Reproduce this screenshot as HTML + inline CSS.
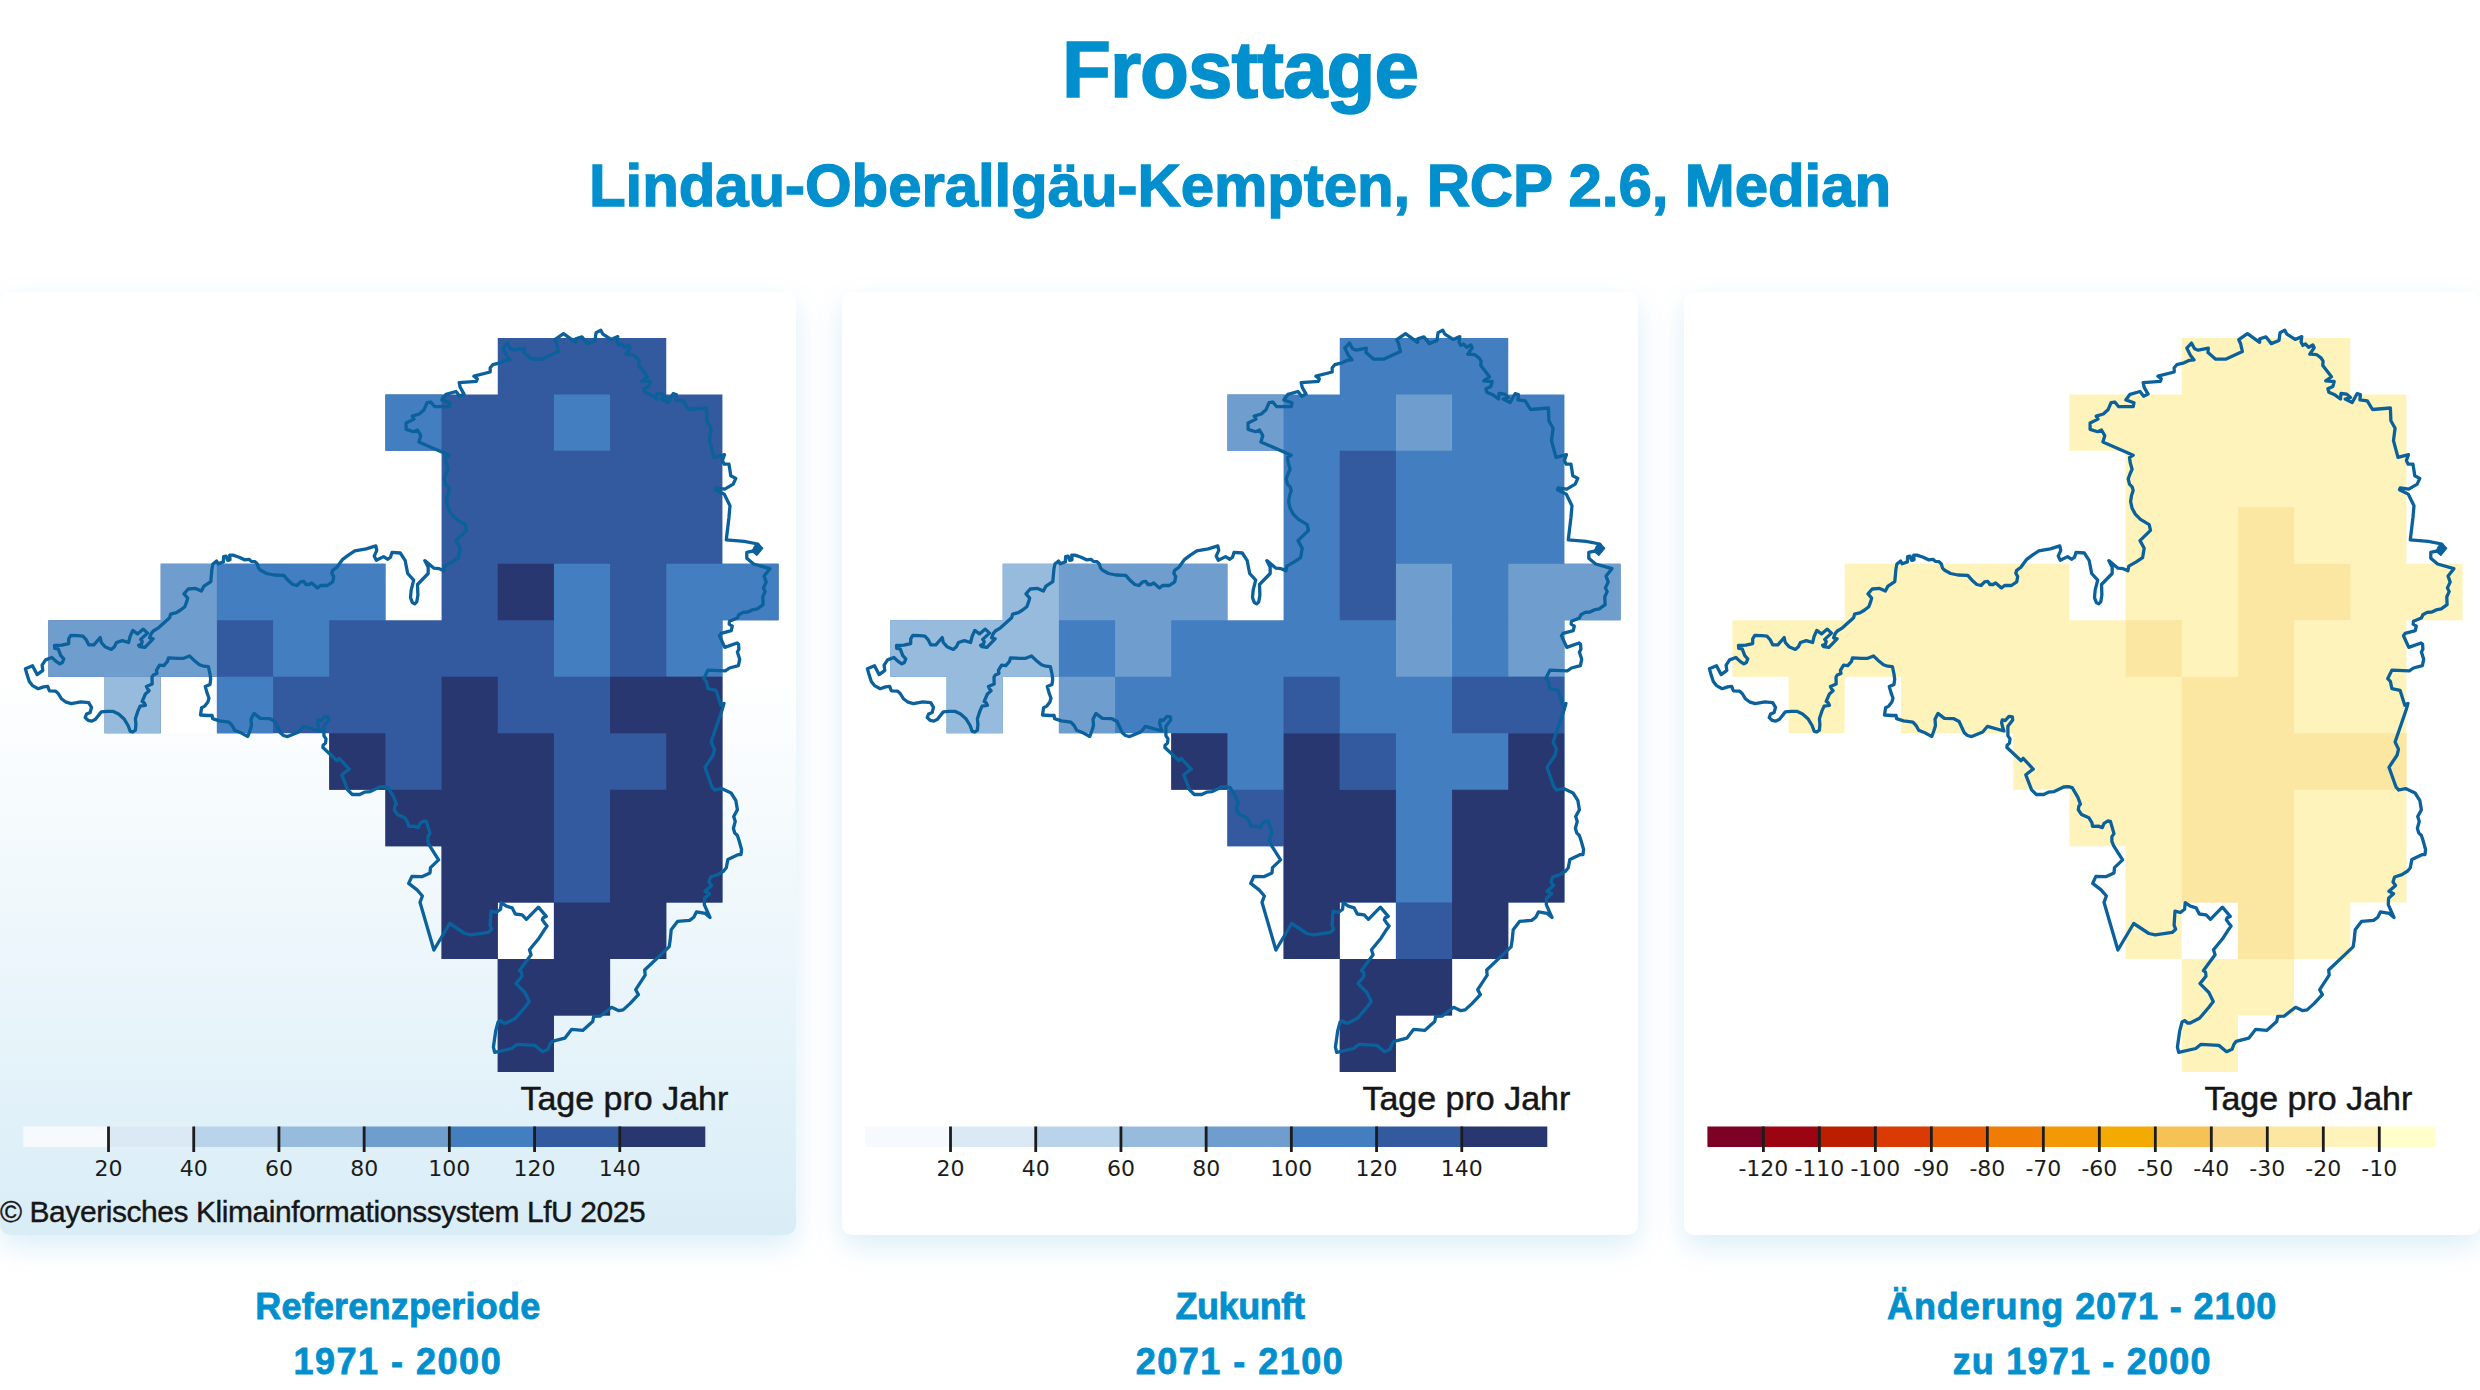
<!DOCTYPE html>
<html lang="de"><head><meta charset="utf-8"><title>Frosttage</title>
<style>
html,body{margin:0;padding:0;background:#fff;}
body{width:2480px;height:1390px;position:relative;overflow:hidden;font-family:"Liberation Sans",sans-serif;color:#028fcd;}
.t{position:absolute;left:0;width:2480px;text-align:center;font-weight:700;white-space:nowrap;margin:0;}
h1.t{top:24.3px;font-size:80px;line-height:92px;letter-spacing:-0.95px;-webkit-text-stroke:1.6px #028fcd;}
h2.t{top:150.6px;font-size:60px;line-height:70px;letter-spacing:-0.09px;-webkit-text-stroke:1.3px #028fcd;}
.card{position:absolute;top:292px;height:943px;width:795.67px;background:#fff;border-radius:10px;box-shadow:0 11px 30px -2px rgba(10,143,208,.17);}
.card.sel{background:linear-gradient(180deg,#fff 40%,#d9edf7 100%);}
svg.map{position:absolute;top:292px;overflow:visible;}
.tk{font-family:"DejaVu Sans","Liberation Sans",sans-serif;font-size:22px;fill:#1c1c1c;}
.unit{font-family:"Liberation Sans",sans-serif;font-size:34px;fill:#161616;stroke:#161616;stroke-width:0.5px;}
.copy{font-family:"Liberation Sans",sans-serif;font-size:30px;letter-spacing:-0.44px;fill:#161616;stroke:#161616;stroke-width:0.4px;}
.cap{position:absolute;width:795.67px;text-align:center;font-weight:700;font-size:36px;line-height:40px;height:40px;white-space:nowrap;-webkit-text-stroke:0.8px #028fcd;}
.l1{top:1287px;} .l2{top:1341.6px;}
</style></head><body>
<h1 class="t">Frosttage</h1>
<h2 class="t">Lindau-Oberallgäu-Kempten, RCP 2.6, Median</h2>
<div class="card sel" style="left:0px"></div>
<div class="card" style="left:842.17px"></div>
<div class="card" style="left:1684.34px"></div>
<svg class="map" style="left:0.00px" width="795.67" height="943" viewBox="0 292 795.67 943">
<path d="M385.42 563.78H441.59V620.25H385.42ZM160.74 676.72H216.91V733.19H160.74ZM497.76 902.60H553.93V959.07H497.76Z" fill="#ffffff"/>
<path d="M216.91 563.78L273.08 563.78L329.25 563.78L385.42 563.78L385.42 620.25L441.59 620.25L441.59 563.78L441.59 507.31L441.59 450.84L385.42 450.84L385.42 394.37L441.59 394.37L497.76 394.37L497.76 337.90L553.93 337.90L610.10 337.90L666.27 337.90L666.27 394.37L722.44 394.37L722.44 450.84L722.44 507.31L722.44 563.78L778.61 563.78L778.61 620.25L722.44 620.25L722.44 676.72L722.44 733.19L722.44 789.66L722.44 846.13L722.44 902.60L666.27 902.60L666.27 959.07L610.10 959.07L610.10 1015.54L553.93 1015.54L553.93 1072.01L497.76 1072.01L497.76 1015.54L497.76 959.07L553.93 959.07L553.93 902.60L497.76 902.60L497.76 959.07L441.59 959.07L441.59 902.60L441.59 846.13L385.42 846.13L385.42 789.66L329.25 789.66L329.25 733.19L273.08 733.19L216.91 733.19L216.91 676.72L160.74 676.72L160.74 733.19L104.57 733.19L104.57 676.72L48.40 676.72L48.40 620.25L104.57 620.25L160.74 620.25L160.74 563.78Z" fill="#33599e" fill-rule="evenodd"/>
<path d="M385.42 394.37H441.59V450.84H385.42ZM553.93 394.37H610.10V450.84H553.93ZM216.91 563.78H385.42V620.25H216.91ZM553.93 563.78H610.10V620.25H553.93ZM666.27 563.78H778.61V620.25H666.27ZM273.08 620.25H329.25V676.72H273.08ZM553.93 620.25H610.10V676.72H553.93ZM666.27 620.25H722.44V676.72H666.27ZM216.91 676.72H273.08V733.19H216.91Z" fill="#437ec0"/>
<path d="M160.74 563.78H216.91V620.25H160.74ZM48.40 620.25H216.91V676.72H48.40Z" fill="#6e9dce"/>
<path d="M497.76 563.78H553.93V620.25H497.76ZM441.59 676.72H497.76V733.19H441.59ZM610.10 676.72H722.44V733.19H610.10ZM329.25 733.19H385.42V789.66H329.25ZM441.59 733.19H553.93V789.66H441.59ZM666.27 733.19H722.44V789.66H666.27ZM385.42 789.66H553.93V846.13H385.42ZM610.10 789.66H722.44V846.13H610.10ZM441.59 846.13H553.93V902.60H441.59ZM610.10 846.13H722.44V902.60H610.10ZM441.59 902.60H497.76V959.07H441.59ZM553.93 902.60H666.27V959.07H553.93ZM497.76 959.07H610.10V1015.54H497.76ZM497.76 1015.54H553.93V1072.01H497.76Z" fill="#283770"/>
<path d="M104.57 676.72H160.74V733.19H104.57Z" fill="#97bbdd"/>
<path d="M25.4 668.8 L32.5 665.8 L37.2 674.6 L42.8 670.4 L42.1 665.1 L45.6 659.9 L51.9 657.5 L56.1 661.4 L59.8 663.9 L62.4 662.5 L63.8 658.8 L60.8 655.7 L58.2 648.8 L54.7 648.3 L54.5 645.5 L61.9 645.2 L68.7 643.6 L68.7 638.8 L70.8 635.4 L77.6 635.7 L82.9 636.2 L86.3 639.9 L88.7 644.8 L93.9 644.8 L100.2 637.5 L101.3 642.5 L105.0 646.7 L111.3 649.4 L114.4 646.7 L116.5 642.5 L122.3 640.6 L128.6 642.5 L130.2 636.2 L132.8 630.4 L137.5 633.9 L143.3 629.1 L147.5 633.1 L140.7 639.4 L142.2 641.5 L141.5 644.1 L138.6 645.2 L139.6 646.5 L144.9 647.3 L153.1 638.8 L149.6 637.8 L151.2 633.6 L153.3 631.0 L158.5 627.8 L163.8 623.1 L169.6 617.8 L170.6 614.2 L176.4 612.6 L180.6 610.0 L184.8 606.8 L186.7 601.6 L187.7 598.1 L184.0 593.9 L188.2 589.0 L195.6 588.4 L201.4 591.1 L204.0 586.1 L210.8 581.6 L211.9 569.3 L212.9 564.0 L216.6 561.1 L218.2 563.8 L223.4 561.9 L223.6 556.6 L226.1 556.1 L227.6 560.3 L230.0 559.8 L229.7 555.1 L232.9 555.1 L239.2 557.2 L244.4 559.8 L249.2 559.3 L251.3 561.4 L255.0 561.7 L257.3 564.0 L258.6 568.2 L260.7 570.3 L266.5 573.5 L273.9 575.0 L283.8 575.3 L288.6 580.8 L292.8 584.5 L297.0 585.5 L300.6 581.9 L303.8 581.3 L305.9 584.5 L309.1 584.5 L311.7 582.9 L317.5 588.0 L320.6 585.5 L327.4 585.5 L332.7 581.9 L333.7 576.6 L331.8 573.2 L332.7 570.3 L336.9 567.2 L342.7 559.3 L348.4 555.1 L354.8 550.9 L366.3 548.8 L375.8 545.9 L376.8 550.3 L374.2 556.1 L376.3 560.3 L383.6 556.6 L387.8 559.3 L390.5 557.2 L392.0 552.4 L400.3 553.0 L405.1 560.3 L407.7 573.5 L413.7 580.1 L411.2 589.8 L410.5 597.6 L412.4 602.6 L414.7 603.9 L416.8 601.8 L417.9 595.0 L417.5 584.5 L428.2 573.5 L428.2 567.2 L424.8 560.6 L434.0 568.2 L439.2 568.7 L443.9 570.8 L444.8 566.1 L452.3 561.9 L458.6 557.7 L460.2 548.3 L456.0 540.6 L466.5 530.4 L465.2 524.6 L456.5 519.4 L451.3 514.1 L448.1 508.3 L446.6 501.5 L447.6 495.2 L449.2 490.5 L448.1 486.8 L445.5 484.2 L444.2 478.9 L446.3 473.2 L448.1 469.2 L446.3 462.9 L445.5 457.6 L449.2 455.2 L418.9 441.9 L420.8 435.6 L417.5 430.0 L413.7 431.7 L406.1 429.3 L406.1 423.0 L414.0 419.1 L412.2 416.1 L419.3 414.0 L424.0 409.8 L427.1 402.7 L430.8 402.0 L434.7 406.7 L449.2 406.7 L450.0 402.7 L441.8 399.9 L446.0 394.3 L456.0 391.5 L459.7 396.2 L464.1 394.1 L460.2 387.3 L459.2 382.7 L476.5 381.3 L477.3 378.8 L473.9 376.2 L490.2 372.0 L490.2 367.8 L492.8 364.7 L500.1 362.8 L505.4 360.3 L510.1 359.9 L506.4 355.2 L502.8 348.1 L507.5 343.1 L510.6 348.7 L514.3 350.2 L524.3 348.1 L524.0 352.6 L531.7 359.2 L541.6 359.2 L558.4 351.5 L556.6 343.7 L554.8 339.7 L563.5 333.7 L575.6 342.3 L575.8 338.7 L581.9 336.8 L587.3 343.6 L595.0 340.5 L596.1 332.6 L600.8 330.3 L602.9 334.2 L611.1 339.4 L617.8 336.6 L617.1 341.9 L618.9 345.4 L621.6 344.0 L624.7 347.3 L628.9 345.0 L630.2 347.8 L625.8 354.1 L632.8 354.7 L637.0 357.8 L639.1 361.2 L638.8 365.4 L647.5 376.7 L641.8 380.9 L650.2 381.5 L648.9 386.4 L643.9 388.8 L644.9 392.3 L651.2 395.1 L656.5 399.0 L657.0 393.5 L662.8 394.1 L666.4 397.5 L661.2 399.0 L668.2 402.5 L673.1 393.7 L676.4 394.6 L675.9 399.8 L683.3 400.9 L688.5 409.5 L706.4 408.0 L706.9 420.8 L711.1 428.2 L709.5 440.6 L714.0 457.4 L724.5 454.7 L722.4 460.5 L724.2 464.2 L729.0 464.2 L730.8 475.7 L735.8 478.4 L733.2 484.1 L724.8 489.1 L716.3 487.8 L715.5 489.7 L724.2 494.1 L730.0 505.7 L729.0 517.2 L726.3 539.8 L744.2 541.4 L757.8 544.0 L753.6 550.8 L746.8 552.4 L746.8 558.2 L753.6 564.0 L769.9 568.7 L764.1 576.1 L766.2 582.1 L763.4 587.9 L765.2 591.6 L762.8 596.8 L763.1 604.7 L757.3 608.9 L752.1 609.9 L747.9 612.0 L743.1 612.4 L738.9 614.7 L737.4 618.0 L729.5 621.2 L729.2 624.1 L732.3 626.2 L731.3 630.6 L721.1 633.4 L719.5 635.7 L724.8 647.4 L737.1 643.0 L738.6 644.3 L738.9 649.3 L737.4 652.0 L739.7 659.3 L738.4 665.6 L729.5 668.0 L725.3 670.9 L707.9 670.1 L703.7 678.7 L706.4 681.4 L707.9 688.7 L716.1 690.3 L720.8 705.2 L724.0 703.4 L722.1 710.0 L711.1 742.0 L714.5 749.1 L713.2 755.0 L705.0 767.3 L712.1 787.2 L714.8 790.0 L721.6 788.6 L731.1 793.0 L735.8 800.3 L737.4 809.8 L733.7 816.6 L735.3 821.4 L733.4 828.2 L734.7 832.9 L737.4 835.5 L738.9 840.0 L741.6 849.5 L741.0 854.5 L737.9 854.7 L727.9 859.4 L726.3 867.8 L723.7 871.0 L717.9 874.7 L710.6 877.0 L709.0 882.0 L711.6 885.4 L705.0 891.3 L709.5 893.8 L704.6 898.3 L704.3 904.6 L710.0 917.5 L705.3 913.5 L696.4 912.0 L693.8 917.2 L689.6 920.4 L677.5 921.4 L671.2 929.8 L670.1 940.8 L669.1 946.9 L644.7 970.0 L645.2 975.2 L635.7 989.7 L638.4 994.6 L630.0 1003.6 L623.1 1009.9 L618.9 1010.7 L611.6 1007.3 L600.0 1016.2 L593.7 1016.4 L592.7 1021.6 L582.7 1030.4 L571.7 1029.3 L564.8 1038.2 L552.2 1041.4 L550.1 1044.0 L548.0 1049.3 L542.6 1051.7 L534.9 1045.4 L517.0 1044.3 L511.8 1048.5 L494.7 1052.4 L493.4 1047.2 L495.7 1030.9 L498.1 1022.0 L501.0 1020.6 L503.4 1023.0 L506.2 1023.0 L515.5 1018.3 L524.9 1007.3 L529.3 1001.5 L524.9 992.5 L516.0 983.6 L522.0 976.3 L521.6 972.3 L519.5 970.6 L531.1 954.8 L529.5 949.8 L539.0 938.2 L543.7 930.8 L547.1 926.1 L544.2 922.4 L542.4 919.8 L543.2 917.7 L546.3 916.4 L538.4 907.2 L526.4 919.3 L522.2 914.9 L515.3 914.0 L512.2 907.9 L506.4 906.2 L501.2 902.7 L500.6 909.3 L496.4 912.5 L491.0 911.1 L490.1 925.1 L491.7 929.3 L488.2 932.4 L471.2 934.8 L464.9 933.5 L449.7 923.5 L433.9 950.0 L420.0 902.3 L422.4 896.0 L417.1 889.9 L408.7 883.4 L411.9 876.4 L421.8 876.7 L430.0 872.9 L430.5 867.6 L438.6 859.9 L429.7 845.8 L427.9 841.3 L427.9 836.6 L430.0 833.6 L426.4 821.3 L423.7 821.0 L420.1 823.4 L418.3 827.6 L414.3 826.1 L408.5 826.3 L408.0 822.9 L404.8 817.7 L397.5 814.5 L394.3 809.8 L394.9 806.1 L396.4 804.2 L393.8 797.2 L388.2 787.7 L384.3 786.7 L379.6 787.0 L370.2 791.6 L364.4 792.2 L359.7 794.5 L352.3 794.5 L347.6 789.8 L341.8 774.8 L349.2 769.1 L339.2 758.3 L337.1 760.7 L322.9 747.5 L323.1 745.2 L325.5 743.1 L326.0 738.9 L323.9 735.7 L323.9 726.3 L328.7 720.0 L328.4 716.8 L325.0 716.3 L321.3 720.5 L318.2 720.0 L317.6 722.6 L318.7 727.3 L320.0 731.0 L303.5 726.3 L298.7 732.0 L287.7 736.6 L283.5 735.5 L280.3 732.8 L275.1 721.5 L269.9 718.7 L260.4 718.4 L253.9 713.4 L251.0 719.2 L251.5 725.5 L249.9 730.8 L247.8 736.5 L241.5 733.1 L234.7 730.2 L232.1 725.5 L228.9 722.2 L219.5 720.8 L212.6 718.7 L212.1 715.5 L207.9 715.5 L200.5 715.0 L201.6 707.7 L204.8 706.1 L207.9 701.9 L209.0 698.2 L206.9 692.4 L205.3 686.6 L210.0 684.5 L210.7 679.3 L210.0 674.0 L208.4 666.7 L203.7 666.2 L199.5 664.8 L194.2 660.4 L189.5 656.0 L183.7 658.3 L177.4 658.3 L168.5 657.8 L167.5 661.4 L163.8 665.6 L159.6 665.1 L156.4 670.4 L157.0 673.5 L153.3 675.1 L152.0 677.2 L152.2 684.0 L146.4 686.4 L147.5 688.7 L149.1 690.8 L145.4 694.0 L142.2 701.4 L144.3 702.9 L145.4 705.3 L140.1 706.1 L138.0 710.8 L135.4 718.7 L135.9 724.5 L135.4 730.2 L132.8 732.0 L130.2 731.3 L128.1 725.5 L123.9 718.7 L118.6 714.0 L112.8 711.3 L107.1 711.3 L101.3 711.9 L95.5 719.2 L91.8 721.1 L88.1 720.3 L85.2 717.6 L86.6 714.0 L90.2 712.4 L91.5 707.4 L88.7 702.6 L80.8 701.9 L71.3 703.7 L66.1 702.2 L61.4 698.7 L58.2 693.5 L55.6 691.1 L49.3 690.8 L47.7 686.4 L43.5 686.9 L38.2 688.7 L32.5 685.6 L29.3 681.4 L27.2 675.1 L25.4 668.8 Z" fill="none" stroke="#0b619b" stroke-width="3.3" stroke-linejoin="round" stroke-linecap="round"/>
<path d="M754.7 546.1 L758.9 544.3 L762.6 548.2 L756.8 555.3 L752.3 551.4 Z" fill="#0b619b" stroke="#0b619b" stroke-width="1.5" stroke-linejoin="round"/>
<text x="728.3" y="1110" text-anchor="end" class="unit">Tage pro Jahr</text>
<rect x="23.30" y="1126.5" width="85.51" height="20.5" fill="#f6fafe"/>
<rect x="108.51" y="1126.5" width="85.51" height="20.5" fill="#dbe9f4"/>
<rect x="193.73" y="1126.5" width="85.51" height="20.5" fill="#b9d4ea"/>
<rect x="278.94" y="1126.5" width="85.51" height="20.5" fill="#97bbdd"/>
<rect x="364.15" y="1126.5" width="85.51" height="20.5" fill="#6e9dce"/>
<rect x="449.36" y="1126.5" width="85.51" height="20.5" fill="#437ec0"/>
<rect x="534.58" y="1126.5" width="85.51" height="20.5" fill="#33599e"/>
<rect x="619.79" y="1126.5" width="85.51" height="20.5" fill="#283770"/>
<rect x="107.11" y="1126.5" width="2.8" height="25.5" fill="#1c1c1c"/>
<text x="108.51" y="1176.3" text-anchor="middle" class="tk">20</text>
<rect x="192.33" y="1126.5" width="2.8" height="25.5" fill="#1c1c1c"/>
<text x="193.73" y="1176.3" text-anchor="middle" class="tk">40</text>
<rect x="277.54" y="1126.5" width="2.8" height="25.5" fill="#1c1c1c"/>
<text x="278.94" y="1176.3" text-anchor="middle" class="tk">60</text>
<rect x="362.75" y="1126.5" width="2.8" height="25.5" fill="#1c1c1c"/>
<text x="364.15" y="1176.3" text-anchor="middle" class="tk">80</text>
<rect x="447.96" y="1126.5" width="2.8" height="25.5" fill="#1c1c1c"/>
<text x="449.36" y="1176.3" text-anchor="middle" class="tk">100</text>
<rect x="533.18" y="1126.5" width="2.8" height="25.5" fill="#1c1c1c"/>
<text x="534.58" y="1176.3" text-anchor="middle" class="tk">120</text>
<rect x="618.39" y="1126.5" width="2.8" height="25.5" fill="#1c1c1c"/>
<text x="619.79" y="1176.3" text-anchor="middle" class="tk">140</text>
<text x="0" y="1222" class="copy">© Bayerisches Klimainformationssystem LfU 2025</text>
</svg>

<svg class="map" style="left:842.17px" width="795.67" height="943" viewBox="0 292 795.67 943">
<path d="M385.42 563.78H441.59V620.25H385.42ZM160.74 676.72H216.91V733.19H160.74ZM497.76 902.60H553.93V959.07H497.76Z" fill="#ffffff"/>
<path d="M216.91 563.78L273.08 563.78L329.25 563.78L385.42 563.78L385.42 620.25L441.59 620.25L441.59 563.78L441.59 507.31L441.59 450.84L385.42 450.84L385.42 394.37L441.59 394.37L497.76 394.37L497.76 337.90L553.93 337.90L610.10 337.90L666.27 337.90L666.27 394.37L722.44 394.37L722.44 450.84L722.44 507.31L722.44 563.78L778.61 563.78L778.61 620.25L722.44 620.25L722.44 676.72L722.44 733.19L722.44 789.66L722.44 846.13L722.44 902.60L666.27 902.60L666.27 959.07L610.10 959.07L610.10 1015.54L553.93 1015.54L553.93 1072.01L497.76 1072.01L497.76 1015.54L497.76 959.07L553.93 959.07L553.93 902.60L497.76 902.60L497.76 959.07L441.59 959.07L441.59 902.60L441.59 846.13L385.42 846.13L385.42 789.66L329.25 789.66L329.25 733.19L273.08 733.19L216.91 733.19L216.91 676.72L160.74 676.72L160.74 733.19L104.57 733.19L104.57 676.72L48.40 676.72L48.40 620.25L104.57 620.25L160.74 620.25L160.74 563.78Z" fill="#437ec0" fill-rule="evenodd"/>
<path d="M385.42 394.37H441.59V450.84H385.42ZM553.93 394.37H610.10V450.84H553.93ZM216.91 563.78H385.42V620.25H216.91ZM553.93 563.78H610.10V620.25H553.93ZM666.27 563.78H778.61V620.25H666.27ZM273.08 620.25H329.25V676.72H273.08ZM553.93 620.25H610.10V676.72H553.93ZM666.27 620.25H722.44V676.72H666.27ZM216.91 676.72H273.08V733.19H216.91Z" fill="#6e9dce"/>
<path d="M497.76 450.84H553.93V507.31H497.76ZM497.76 507.31H553.93V563.78H497.76ZM497.76 563.78H553.93V620.25H497.76ZM441.59 676.72H497.76V733.19H441.59ZM610.10 676.72H722.44V733.19H610.10ZM497.76 733.19H553.93V789.66H497.76ZM385.42 789.66H441.59V846.13H385.42ZM553.93 902.60H610.10V959.07H553.93Z" fill="#33599e"/>
<path d="M160.74 563.78H216.91V620.25H160.74ZM48.40 620.25H216.91V676.72H48.40ZM104.57 676.72H160.74V733.19H104.57Z" fill="#97bbdd"/>
<path d="M329.25 733.19H385.42V789.66H329.25ZM441.59 733.19H497.76V789.66H441.59ZM666.27 733.19H722.44V789.66H666.27ZM441.59 789.66H553.93V846.13H441.59ZM610.10 789.66H722.44V846.13H610.10ZM441.59 846.13H553.93V902.60H441.59ZM610.10 846.13H722.44V902.60H610.10ZM441.59 902.60H497.76V959.07H441.59ZM610.10 902.60H666.27V959.07H610.10ZM497.76 959.07H610.10V1015.54H497.76ZM497.76 1015.54H553.93V1072.01H497.76Z" fill="#283770"/>
<path d="M25.4 668.8 L32.5 665.8 L37.2 674.6 L42.8 670.4 L42.1 665.1 L45.6 659.9 L51.9 657.5 L56.1 661.4 L59.8 663.9 L62.4 662.5 L63.8 658.8 L60.8 655.7 L58.2 648.8 L54.7 648.3 L54.5 645.5 L61.9 645.2 L68.7 643.6 L68.7 638.8 L70.8 635.4 L77.6 635.7 L82.9 636.2 L86.3 639.9 L88.7 644.8 L93.9 644.8 L100.2 637.5 L101.3 642.5 L105.0 646.7 L111.3 649.4 L114.4 646.7 L116.5 642.5 L122.3 640.6 L128.6 642.5 L130.2 636.2 L132.8 630.4 L137.5 633.9 L143.3 629.1 L147.5 633.1 L140.7 639.4 L142.2 641.5 L141.5 644.1 L138.6 645.2 L139.6 646.5 L144.9 647.3 L153.1 638.8 L149.6 637.8 L151.2 633.6 L153.3 631.0 L158.5 627.8 L163.8 623.1 L169.6 617.8 L170.6 614.2 L176.4 612.6 L180.6 610.0 L184.8 606.8 L186.7 601.6 L187.7 598.1 L184.0 593.9 L188.2 589.0 L195.6 588.4 L201.4 591.1 L204.0 586.1 L210.8 581.6 L211.9 569.3 L212.9 564.0 L216.6 561.1 L218.2 563.8 L223.4 561.9 L223.6 556.6 L226.1 556.1 L227.6 560.3 L230.0 559.8 L229.7 555.1 L232.9 555.1 L239.2 557.2 L244.4 559.8 L249.2 559.3 L251.3 561.4 L255.0 561.7 L257.3 564.0 L258.6 568.2 L260.7 570.3 L266.5 573.5 L273.9 575.0 L283.8 575.3 L288.6 580.8 L292.8 584.5 L297.0 585.5 L300.6 581.9 L303.8 581.3 L305.9 584.5 L309.1 584.5 L311.7 582.9 L317.5 588.0 L320.6 585.5 L327.4 585.5 L332.7 581.9 L333.7 576.6 L331.8 573.2 L332.7 570.3 L336.9 567.2 L342.7 559.3 L348.4 555.1 L354.8 550.9 L366.3 548.8 L375.8 545.9 L376.8 550.3 L374.2 556.1 L376.3 560.3 L383.6 556.6 L387.8 559.3 L390.5 557.2 L392.0 552.4 L400.3 553.0 L405.1 560.3 L407.7 573.5 L413.7 580.1 L411.2 589.8 L410.5 597.6 L412.4 602.6 L414.7 603.9 L416.8 601.8 L417.9 595.0 L417.5 584.5 L428.2 573.5 L428.2 567.2 L424.8 560.6 L434.0 568.2 L439.2 568.7 L443.9 570.8 L444.8 566.1 L452.3 561.9 L458.6 557.7 L460.2 548.3 L456.0 540.6 L466.5 530.4 L465.2 524.6 L456.5 519.4 L451.3 514.1 L448.1 508.3 L446.6 501.5 L447.6 495.2 L449.2 490.5 L448.1 486.8 L445.5 484.2 L444.2 478.9 L446.3 473.2 L448.1 469.2 L446.3 462.9 L445.5 457.6 L449.2 455.2 L418.9 441.9 L420.8 435.6 L417.5 430.0 L413.7 431.7 L406.1 429.3 L406.1 423.0 L414.0 419.1 L412.2 416.1 L419.3 414.0 L424.0 409.8 L427.1 402.7 L430.8 402.0 L434.7 406.7 L449.2 406.7 L450.0 402.7 L441.8 399.9 L446.0 394.3 L456.0 391.5 L459.7 396.2 L464.1 394.1 L460.2 387.3 L459.2 382.7 L476.5 381.3 L477.3 378.8 L473.9 376.2 L490.2 372.0 L490.2 367.8 L492.8 364.7 L500.1 362.8 L505.4 360.3 L510.1 359.9 L506.4 355.2 L502.8 348.1 L507.5 343.1 L510.6 348.7 L514.3 350.2 L524.3 348.1 L524.0 352.6 L531.7 359.2 L541.6 359.2 L558.4 351.5 L556.6 343.7 L554.8 339.7 L563.5 333.7 L575.6 342.3 L575.8 338.7 L581.9 336.8 L587.3 343.6 L595.0 340.5 L596.1 332.6 L600.8 330.3 L602.9 334.2 L611.1 339.4 L617.8 336.6 L617.1 341.9 L618.9 345.4 L621.6 344.0 L624.7 347.3 L628.9 345.0 L630.2 347.8 L625.8 354.1 L632.8 354.7 L637.0 357.8 L639.1 361.2 L638.8 365.4 L647.5 376.7 L641.8 380.9 L650.2 381.5 L648.9 386.4 L643.9 388.8 L644.9 392.3 L651.2 395.1 L656.5 399.0 L657.0 393.5 L662.8 394.1 L666.4 397.5 L661.2 399.0 L668.2 402.5 L673.1 393.7 L676.4 394.6 L675.9 399.8 L683.3 400.9 L688.5 409.5 L706.4 408.0 L706.9 420.8 L711.1 428.2 L709.5 440.6 L714.0 457.4 L724.5 454.7 L722.4 460.5 L724.2 464.2 L729.0 464.2 L730.8 475.7 L735.8 478.4 L733.2 484.1 L724.8 489.1 L716.3 487.8 L715.5 489.7 L724.2 494.1 L730.0 505.7 L729.0 517.2 L726.3 539.8 L744.2 541.4 L757.8 544.0 L753.6 550.8 L746.8 552.4 L746.8 558.2 L753.6 564.0 L769.9 568.7 L764.1 576.1 L766.2 582.1 L763.4 587.9 L765.2 591.6 L762.8 596.8 L763.1 604.7 L757.3 608.9 L752.1 609.9 L747.9 612.0 L743.1 612.4 L738.9 614.7 L737.4 618.0 L729.5 621.2 L729.2 624.1 L732.3 626.2 L731.3 630.6 L721.1 633.4 L719.5 635.7 L724.8 647.4 L737.1 643.0 L738.6 644.3 L738.9 649.3 L737.4 652.0 L739.7 659.3 L738.4 665.6 L729.5 668.0 L725.3 670.9 L707.9 670.1 L703.7 678.7 L706.4 681.4 L707.9 688.7 L716.1 690.3 L720.8 705.2 L724.0 703.4 L722.1 710.0 L711.1 742.0 L714.5 749.1 L713.2 755.0 L705.0 767.3 L712.1 787.2 L714.8 790.0 L721.6 788.6 L731.1 793.0 L735.8 800.3 L737.4 809.8 L733.7 816.6 L735.3 821.4 L733.4 828.2 L734.7 832.9 L737.4 835.5 L738.9 840.0 L741.6 849.5 L741.0 854.5 L737.9 854.7 L727.9 859.4 L726.3 867.8 L723.7 871.0 L717.9 874.7 L710.6 877.0 L709.0 882.0 L711.6 885.4 L705.0 891.3 L709.5 893.8 L704.6 898.3 L704.3 904.6 L710.0 917.5 L705.3 913.5 L696.4 912.0 L693.8 917.2 L689.6 920.4 L677.5 921.4 L671.2 929.8 L670.1 940.8 L669.1 946.9 L644.7 970.0 L645.2 975.2 L635.7 989.7 L638.4 994.6 L630.0 1003.6 L623.1 1009.9 L618.9 1010.7 L611.6 1007.3 L600.0 1016.2 L593.7 1016.4 L592.7 1021.6 L582.7 1030.4 L571.7 1029.3 L564.8 1038.2 L552.2 1041.4 L550.1 1044.0 L548.0 1049.3 L542.6 1051.7 L534.9 1045.4 L517.0 1044.3 L511.8 1048.5 L494.7 1052.4 L493.4 1047.2 L495.7 1030.9 L498.1 1022.0 L501.0 1020.6 L503.4 1023.0 L506.2 1023.0 L515.5 1018.3 L524.9 1007.3 L529.3 1001.5 L524.9 992.5 L516.0 983.6 L522.0 976.3 L521.6 972.3 L519.5 970.6 L531.1 954.8 L529.5 949.8 L539.0 938.2 L543.7 930.8 L547.1 926.1 L544.2 922.4 L542.4 919.8 L543.2 917.7 L546.3 916.4 L538.4 907.2 L526.4 919.3 L522.2 914.9 L515.3 914.0 L512.2 907.9 L506.4 906.2 L501.2 902.7 L500.6 909.3 L496.4 912.5 L491.0 911.1 L490.1 925.1 L491.7 929.3 L488.2 932.4 L471.2 934.8 L464.9 933.5 L449.7 923.5 L433.9 950.0 L420.0 902.3 L422.4 896.0 L417.1 889.9 L408.7 883.4 L411.9 876.4 L421.8 876.7 L430.0 872.9 L430.5 867.6 L438.6 859.9 L429.7 845.8 L427.9 841.3 L427.9 836.6 L430.0 833.6 L426.4 821.3 L423.7 821.0 L420.1 823.4 L418.3 827.6 L414.3 826.1 L408.5 826.3 L408.0 822.9 L404.8 817.7 L397.5 814.5 L394.3 809.8 L394.9 806.1 L396.4 804.2 L393.8 797.2 L388.2 787.7 L384.3 786.7 L379.6 787.0 L370.2 791.6 L364.4 792.2 L359.7 794.5 L352.3 794.5 L347.6 789.8 L341.8 774.8 L349.2 769.1 L339.2 758.3 L337.1 760.7 L322.9 747.5 L323.1 745.2 L325.5 743.1 L326.0 738.9 L323.9 735.7 L323.9 726.3 L328.7 720.0 L328.4 716.8 L325.0 716.3 L321.3 720.5 L318.2 720.0 L317.6 722.6 L318.7 727.3 L320.0 731.0 L303.5 726.3 L298.7 732.0 L287.7 736.6 L283.5 735.5 L280.3 732.8 L275.1 721.5 L269.9 718.7 L260.4 718.4 L253.9 713.4 L251.0 719.2 L251.5 725.5 L249.9 730.8 L247.8 736.5 L241.5 733.1 L234.7 730.2 L232.1 725.5 L228.9 722.2 L219.5 720.8 L212.6 718.7 L212.1 715.5 L207.9 715.5 L200.5 715.0 L201.6 707.7 L204.8 706.1 L207.9 701.9 L209.0 698.2 L206.9 692.4 L205.3 686.6 L210.0 684.5 L210.7 679.3 L210.0 674.0 L208.4 666.7 L203.7 666.2 L199.5 664.8 L194.2 660.4 L189.5 656.0 L183.7 658.3 L177.4 658.3 L168.5 657.8 L167.5 661.4 L163.8 665.6 L159.6 665.1 L156.4 670.4 L157.0 673.5 L153.3 675.1 L152.0 677.2 L152.2 684.0 L146.4 686.4 L147.5 688.7 L149.1 690.8 L145.4 694.0 L142.2 701.4 L144.3 702.9 L145.4 705.3 L140.1 706.1 L138.0 710.8 L135.4 718.7 L135.9 724.5 L135.4 730.2 L132.8 732.0 L130.2 731.3 L128.1 725.5 L123.9 718.7 L118.6 714.0 L112.8 711.3 L107.1 711.3 L101.3 711.9 L95.5 719.2 L91.8 721.1 L88.1 720.3 L85.2 717.6 L86.6 714.0 L90.2 712.4 L91.5 707.4 L88.7 702.6 L80.8 701.9 L71.3 703.7 L66.1 702.2 L61.4 698.7 L58.2 693.5 L55.6 691.1 L49.3 690.8 L47.7 686.4 L43.5 686.9 L38.2 688.7 L32.5 685.6 L29.3 681.4 L27.2 675.1 L25.4 668.8 Z" fill="none" stroke="#0b619b" stroke-width="3.3" stroke-linejoin="round" stroke-linecap="round"/>
<path d="M754.7 546.1 L758.9 544.3 L762.6 548.2 L756.8 555.3 L752.3 551.4 Z" fill="#0b619b" stroke="#0b619b" stroke-width="1.5" stroke-linejoin="round"/>
<text x="728.3" y="1110" text-anchor="end" class="unit">Tage pro Jahr</text>
<rect x="23.30" y="1126.5" width="85.51" height="20.5" fill="#f6fafe"/>
<rect x="108.51" y="1126.5" width="85.51" height="20.5" fill="#dbe9f4"/>
<rect x="193.73" y="1126.5" width="85.51" height="20.5" fill="#b9d4ea"/>
<rect x="278.94" y="1126.5" width="85.51" height="20.5" fill="#97bbdd"/>
<rect x="364.15" y="1126.5" width="85.51" height="20.5" fill="#6e9dce"/>
<rect x="449.36" y="1126.5" width="85.51" height="20.5" fill="#437ec0"/>
<rect x="534.58" y="1126.5" width="85.51" height="20.5" fill="#33599e"/>
<rect x="619.79" y="1126.5" width="85.51" height="20.5" fill="#283770"/>
<rect x="107.11" y="1126.5" width="2.8" height="25.5" fill="#1c1c1c"/>
<text x="108.51" y="1176.3" text-anchor="middle" class="tk">20</text>
<rect x="192.33" y="1126.5" width="2.8" height="25.5" fill="#1c1c1c"/>
<text x="193.73" y="1176.3" text-anchor="middle" class="tk">40</text>
<rect x="277.54" y="1126.5" width="2.8" height="25.5" fill="#1c1c1c"/>
<text x="278.94" y="1176.3" text-anchor="middle" class="tk">60</text>
<rect x="362.75" y="1126.5" width="2.8" height="25.5" fill="#1c1c1c"/>
<text x="364.15" y="1176.3" text-anchor="middle" class="tk">80</text>
<rect x="447.96" y="1126.5" width="2.8" height="25.5" fill="#1c1c1c"/>
<text x="449.36" y="1176.3" text-anchor="middle" class="tk">100</text>
<rect x="533.18" y="1126.5" width="2.8" height="25.5" fill="#1c1c1c"/>
<text x="534.58" y="1176.3" text-anchor="middle" class="tk">120</text>
<rect x="618.39" y="1126.5" width="2.8" height="25.5" fill="#1c1c1c"/>
<text x="619.79" y="1176.3" text-anchor="middle" class="tk">140</text>
</svg>

<svg class="map" style="left:1684.34px" width="795.67" height="943" viewBox="0 292 795.67 943">
<path d="M216.91 563.78L273.08 563.78L329.25 563.78L385.42 563.78L385.42 620.25L441.59 620.25L441.59 563.78L441.59 507.31L441.59 450.84L385.42 450.84L385.42 394.37L441.59 394.37L497.76 394.37L497.76 337.90L553.93 337.90L610.10 337.90L666.27 337.90L666.27 394.37L722.44 394.37L722.44 450.84L722.44 507.31L722.44 563.78L778.61 563.78L778.61 620.25L722.44 620.25L722.44 676.72L722.44 733.19L722.44 789.66L722.44 846.13L722.44 902.60L666.27 902.60L666.27 959.07L610.10 959.07L610.10 1015.54L553.93 1015.54L553.93 1072.01L497.76 1072.01L497.76 1015.54L497.76 959.07L553.93 959.07L553.93 902.60L497.76 902.60L497.76 959.07L441.59 959.07L441.59 902.60L441.59 846.13L385.42 846.13L385.42 789.66L329.25 789.66L329.25 733.19L273.08 733.19L216.91 733.19L216.91 676.72L160.74 676.72L160.74 733.19L104.57 733.19L104.57 676.72L48.40 676.72L48.40 620.25L104.57 620.25L160.74 620.25L160.74 563.78Z" fill="#fff3bc" fill-rule="evenodd"/>
<path d="M553.93 507.31H610.10V563.78H553.93ZM553.93 563.78H666.27V620.25H553.93ZM441.59 620.25H497.76V676.72H441.59ZM553.93 620.25H610.10V676.72H553.93ZM497.76 676.72H610.10V733.19H497.76ZM497.76 733.19H722.44V789.66H497.76ZM497.76 789.66H610.10V846.13H497.76ZM497.76 846.13H610.10V902.60H497.76ZM553.93 902.60H610.10V959.07H553.93Z" fill="#fbe6a2"/>
<path d="M25.4 668.8 L32.5 665.8 L37.2 674.6 L42.8 670.4 L42.1 665.1 L45.6 659.9 L51.9 657.5 L56.1 661.4 L59.8 663.9 L62.4 662.5 L63.8 658.8 L60.8 655.7 L58.2 648.8 L54.7 648.3 L54.5 645.5 L61.9 645.2 L68.7 643.6 L68.7 638.8 L70.8 635.4 L77.6 635.7 L82.9 636.2 L86.3 639.9 L88.7 644.8 L93.9 644.8 L100.2 637.5 L101.3 642.5 L105.0 646.7 L111.3 649.4 L114.4 646.7 L116.5 642.5 L122.3 640.6 L128.6 642.5 L130.2 636.2 L132.8 630.4 L137.5 633.9 L143.3 629.1 L147.5 633.1 L140.7 639.4 L142.2 641.5 L141.5 644.1 L138.6 645.2 L139.6 646.5 L144.9 647.3 L153.1 638.8 L149.6 637.8 L151.2 633.6 L153.3 631.0 L158.5 627.8 L163.8 623.1 L169.6 617.8 L170.6 614.2 L176.4 612.6 L180.6 610.0 L184.8 606.8 L186.7 601.6 L187.7 598.1 L184.0 593.9 L188.2 589.0 L195.6 588.4 L201.4 591.1 L204.0 586.1 L210.8 581.6 L211.9 569.3 L212.9 564.0 L216.6 561.1 L218.2 563.8 L223.4 561.9 L223.6 556.6 L226.1 556.1 L227.6 560.3 L230.0 559.8 L229.7 555.1 L232.9 555.1 L239.2 557.2 L244.4 559.8 L249.2 559.3 L251.3 561.4 L255.0 561.7 L257.3 564.0 L258.6 568.2 L260.7 570.3 L266.5 573.5 L273.9 575.0 L283.8 575.3 L288.6 580.8 L292.8 584.5 L297.0 585.5 L300.6 581.9 L303.8 581.3 L305.9 584.5 L309.1 584.5 L311.7 582.9 L317.5 588.0 L320.6 585.5 L327.4 585.5 L332.7 581.9 L333.7 576.6 L331.8 573.2 L332.7 570.3 L336.9 567.2 L342.7 559.3 L348.4 555.1 L354.8 550.9 L366.3 548.8 L375.8 545.9 L376.8 550.3 L374.2 556.1 L376.3 560.3 L383.6 556.6 L387.8 559.3 L390.5 557.2 L392.0 552.4 L400.3 553.0 L405.1 560.3 L407.7 573.5 L413.7 580.1 L411.2 589.8 L410.5 597.6 L412.4 602.6 L414.7 603.9 L416.8 601.8 L417.9 595.0 L417.5 584.5 L428.2 573.5 L428.2 567.2 L424.8 560.6 L434.0 568.2 L439.2 568.7 L443.9 570.8 L444.8 566.1 L452.3 561.9 L458.6 557.7 L460.2 548.3 L456.0 540.6 L466.5 530.4 L465.2 524.6 L456.5 519.4 L451.3 514.1 L448.1 508.3 L446.6 501.5 L447.6 495.2 L449.2 490.5 L448.1 486.8 L445.5 484.2 L444.2 478.9 L446.3 473.2 L448.1 469.2 L446.3 462.9 L445.5 457.6 L449.2 455.2 L418.9 441.9 L420.8 435.6 L417.5 430.0 L413.7 431.7 L406.1 429.3 L406.1 423.0 L414.0 419.1 L412.2 416.1 L419.3 414.0 L424.0 409.8 L427.1 402.7 L430.8 402.0 L434.7 406.7 L449.2 406.7 L450.0 402.7 L441.8 399.9 L446.0 394.3 L456.0 391.5 L459.7 396.2 L464.1 394.1 L460.2 387.3 L459.2 382.7 L476.5 381.3 L477.3 378.8 L473.9 376.2 L490.2 372.0 L490.2 367.8 L492.8 364.7 L500.1 362.8 L505.4 360.3 L510.1 359.9 L506.4 355.2 L502.8 348.1 L507.5 343.1 L510.6 348.7 L514.3 350.2 L524.3 348.1 L524.0 352.6 L531.7 359.2 L541.6 359.2 L558.4 351.5 L556.6 343.7 L554.8 339.7 L563.5 333.7 L575.6 342.3 L575.8 338.7 L581.9 336.8 L587.3 343.6 L595.0 340.5 L596.1 332.6 L600.8 330.3 L602.9 334.2 L611.1 339.4 L617.8 336.6 L617.1 341.9 L618.9 345.4 L621.6 344.0 L624.7 347.3 L628.9 345.0 L630.2 347.8 L625.8 354.1 L632.8 354.7 L637.0 357.8 L639.1 361.2 L638.8 365.4 L647.5 376.7 L641.8 380.9 L650.2 381.5 L648.9 386.4 L643.9 388.8 L644.9 392.3 L651.2 395.1 L656.5 399.0 L657.0 393.5 L662.8 394.1 L666.4 397.5 L661.2 399.0 L668.2 402.5 L673.1 393.7 L676.4 394.6 L675.9 399.8 L683.3 400.9 L688.5 409.5 L706.4 408.0 L706.9 420.8 L711.1 428.2 L709.5 440.6 L714.0 457.4 L724.5 454.7 L722.4 460.5 L724.2 464.2 L729.0 464.2 L730.8 475.7 L735.8 478.4 L733.2 484.1 L724.8 489.1 L716.3 487.8 L715.5 489.7 L724.2 494.1 L730.0 505.7 L729.0 517.2 L726.3 539.8 L744.2 541.4 L757.8 544.0 L753.6 550.8 L746.8 552.4 L746.8 558.2 L753.6 564.0 L769.9 568.7 L764.1 576.1 L766.2 582.1 L763.4 587.9 L765.2 591.6 L762.8 596.8 L763.1 604.7 L757.3 608.9 L752.1 609.9 L747.9 612.0 L743.1 612.4 L738.9 614.7 L737.4 618.0 L729.5 621.2 L729.2 624.1 L732.3 626.2 L731.3 630.6 L721.1 633.4 L719.5 635.7 L724.8 647.4 L737.1 643.0 L738.6 644.3 L738.9 649.3 L737.4 652.0 L739.7 659.3 L738.4 665.6 L729.5 668.0 L725.3 670.9 L707.9 670.1 L703.7 678.7 L706.4 681.4 L707.9 688.7 L716.1 690.3 L720.8 705.2 L724.0 703.4 L722.1 710.0 L711.1 742.0 L714.5 749.1 L713.2 755.0 L705.0 767.3 L712.1 787.2 L714.8 790.0 L721.6 788.6 L731.1 793.0 L735.8 800.3 L737.4 809.8 L733.7 816.6 L735.3 821.4 L733.4 828.2 L734.7 832.9 L737.4 835.5 L738.9 840.0 L741.6 849.5 L741.0 854.5 L737.9 854.7 L727.9 859.4 L726.3 867.8 L723.7 871.0 L717.9 874.7 L710.6 877.0 L709.0 882.0 L711.6 885.4 L705.0 891.3 L709.5 893.8 L704.6 898.3 L704.3 904.6 L710.0 917.5 L705.3 913.5 L696.4 912.0 L693.8 917.2 L689.6 920.4 L677.5 921.4 L671.2 929.8 L670.1 940.8 L669.1 946.9 L644.7 970.0 L645.2 975.2 L635.7 989.7 L638.4 994.6 L630.0 1003.6 L623.1 1009.9 L618.9 1010.7 L611.6 1007.3 L600.0 1016.2 L593.7 1016.4 L592.7 1021.6 L582.7 1030.4 L571.7 1029.3 L564.8 1038.2 L552.2 1041.4 L550.1 1044.0 L548.0 1049.3 L542.6 1051.7 L534.9 1045.4 L517.0 1044.3 L511.8 1048.5 L494.7 1052.4 L493.4 1047.2 L495.7 1030.9 L498.1 1022.0 L501.0 1020.6 L503.4 1023.0 L506.2 1023.0 L515.5 1018.3 L524.9 1007.3 L529.3 1001.5 L524.9 992.5 L516.0 983.6 L522.0 976.3 L521.6 972.3 L519.5 970.6 L531.1 954.8 L529.5 949.8 L539.0 938.2 L543.7 930.8 L547.1 926.1 L544.2 922.4 L542.4 919.8 L543.2 917.7 L546.3 916.4 L538.4 907.2 L526.4 919.3 L522.2 914.9 L515.3 914.0 L512.2 907.9 L506.4 906.2 L501.2 902.7 L500.6 909.3 L496.4 912.5 L491.0 911.1 L490.1 925.1 L491.7 929.3 L488.2 932.4 L471.2 934.8 L464.9 933.5 L449.7 923.5 L433.9 950.0 L420.0 902.3 L422.4 896.0 L417.1 889.9 L408.7 883.4 L411.9 876.4 L421.8 876.7 L430.0 872.9 L430.5 867.6 L438.6 859.9 L429.7 845.8 L427.9 841.3 L427.9 836.6 L430.0 833.6 L426.4 821.3 L423.7 821.0 L420.1 823.4 L418.3 827.6 L414.3 826.1 L408.5 826.3 L408.0 822.9 L404.8 817.7 L397.5 814.5 L394.3 809.8 L394.9 806.1 L396.4 804.2 L393.8 797.2 L388.2 787.7 L384.3 786.7 L379.6 787.0 L370.2 791.6 L364.4 792.2 L359.7 794.5 L352.3 794.5 L347.6 789.8 L341.8 774.8 L349.2 769.1 L339.2 758.3 L337.1 760.7 L322.9 747.5 L323.1 745.2 L325.5 743.1 L326.0 738.9 L323.9 735.7 L323.9 726.3 L328.7 720.0 L328.4 716.8 L325.0 716.3 L321.3 720.5 L318.2 720.0 L317.6 722.6 L318.7 727.3 L320.0 731.0 L303.5 726.3 L298.7 732.0 L287.7 736.6 L283.5 735.5 L280.3 732.8 L275.1 721.5 L269.9 718.7 L260.4 718.4 L253.9 713.4 L251.0 719.2 L251.5 725.5 L249.9 730.8 L247.8 736.5 L241.5 733.1 L234.7 730.2 L232.1 725.5 L228.9 722.2 L219.5 720.8 L212.6 718.7 L212.1 715.5 L207.9 715.5 L200.5 715.0 L201.6 707.7 L204.8 706.1 L207.9 701.9 L209.0 698.2 L206.9 692.4 L205.3 686.6 L210.0 684.5 L210.7 679.3 L210.0 674.0 L208.4 666.7 L203.7 666.2 L199.5 664.8 L194.2 660.4 L189.5 656.0 L183.7 658.3 L177.4 658.3 L168.5 657.8 L167.5 661.4 L163.8 665.6 L159.6 665.1 L156.4 670.4 L157.0 673.5 L153.3 675.1 L152.0 677.2 L152.2 684.0 L146.4 686.4 L147.5 688.7 L149.1 690.8 L145.4 694.0 L142.2 701.4 L144.3 702.9 L145.4 705.3 L140.1 706.1 L138.0 710.8 L135.4 718.7 L135.9 724.5 L135.4 730.2 L132.8 732.0 L130.2 731.3 L128.1 725.5 L123.9 718.7 L118.6 714.0 L112.8 711.3 L107.1 711.3 L101.3 711.9 L95.5 719.2 L91.8 721.1 L88.1 720.3 L85.2 717.6 L86.6 714.0 L90.2 712.4 L91.5 707.4 L88.7 702.6 L80.8 701.9 L71.3 703.7 L66.1 702.2 L61.4 698.7 L58.2 693.5 L55.6 691.1 L49.3 690.8 L47.7 686.4 L43.5 686.9 L38.2 688.7 L32.5 685.6 L29.3 681.4 L27.2 675.1 L25.4 668.8 Z" fill="none" stroke="#0b619b" stroke-width="3.3" stroke-linejoin="round" stroke-linecap="round"/>
<path d="M754.7 546.1 L758.9 544.3 L762.6 548.2 L756.8 555.3 L752.3 551.4 Z" fill="#0b619b" stroke="#0b619b" stroke-width="1.5" stroke-linejoin="round"/>
<text x="728.3" y="1110" text-anchor="end" class="unit">Tage pro Jahr</text>
<rect x="23.40" y="1126.5" width="56.29" height="20.5" fill="#7d0025"/>
<rect x="79.39" y="1126.5" width="56.29" height="20.5" fill="#9c0412"/>
<rect x="135.38" y="1126.5" width="56.29" height="20.5" fill="#bc1f00"/>
<rect x="191.38" y="1126.5" width="56.29" height="20.5" fill="#da3a03"/>
<rect x="247.37" y="1126.5" width="56.29" height="20.5" fill="#e95a05"/>
<rect x="303.36" y="1126.5" width="56.29" height="20.5" fill="#f07c04"/>
<rect x="359.35" y="1126.5" width="56.29" height="20.5" fill="#f29905"/>
<rect x="415.35" y="1126.5" width="56.29" height="20.5" fill="#f4ab01"/>
<rect x="471.34" y="1126.5" width="56.29" height="20.5" fill="#f6c254"/>
<rect x="527.33" y="1126.5" width="56.29" height="20.5" fill="#f8d585"/>
<rect x="583.32" y="1126.5" width="56.29" height="20.5" fill="#fbe6a2"/>
<rect x="639.32" y="1126.5" width="56.29" height="20.5" fill="#fff3bc"/>
<rect x="695.31" y="1126.5" width="56.29" height="20.5" fill="#ffffcc"/>
<rect x="77.99" y="1126.5" width="2.8" height="25.5" fill="#1c1c1c"/>
<text x="79.39" y="1176.3" text-anchor="middle" class="tk">-120</text>
<rect x="133.98" y="1126.5" width="2.8" height="25.5" fill="#1c1c1c"/>
<text x="135.38" y="1176.3" text-anchor="middle" class="tk">-110</text>
<rect x="189.98" y="1126.5" width="2.8" height="25.5" fill="#1c1c1c"/>
<text x="191.38" y="1176.3" text-anchor="middle" class="tk">-100</text>
<rect x="245.97" y="1126.5" width="2.8" height="25.5" fill="#1c1c1c"/>
<text x="247.37" y="1176.3" text-anchor="middle" class="tk">-90</text>
<rect x="301.96" y="1126.5" width="2.8" height="25.5" fill="#1c1c1c"/>
<text x="303.36" y="1176.3" text-anchor="middle" class="tk">-80</text>
<rect x="357.95" y="1126.5" width="2.8" height="25.5" fill="#1c1c1c"/>
<text x="359.35" y="1176.3" text-anchor="middle" class="tk">-70</text>
<rect x="413.95" y="1126.5" width="2.8" height="25.5" fill="#1c1c1c"/>
<text x="415.35" y="1176.3" text-anchor="middle" class="tk">-60</text>
<rect x="469.94" y="1126.5" width="2.8" height="25.5" fill="#1c1c1c"/>
<text x="471.34" y="1176.3" text-anchor="middle" class="tk">-50</text>
<rect x="525.93" y="1126.5" width="2.8" height="25.5" fill="#1c1c1c"/>
<text x="527.33" y="1176.3" text-anchor="middle" class="tk">-40</text>
<rect x="581.92" y="1126.5" width="2.8" height="25.5" fill="#1c1c1c"/>
<text x="583.32" y="1176.3" text-anchor="middle" class="tk">-30</text>
<rect x="637.92" y="1126.5" width="2.8" height="25.5" fill="#1c1c1c"/>
<text x="639.32" y="1176.3" text-anchor="middle" class="tk">-20</text>
<rect x="693.91" y="1126.5" width="2.8" height="25.5" fill="#1c1c1c"/>
<text x="695.31" y="1176.3" text-anchor="middle" class="tk">-10</text>
</svg>

<div class="cap l1" style="left:0px;letter-spacing:0.2px">Referenzperiode</div>
<div class="cap l2" style="left:0px;letter-spacing:1.5px">1971 - 2000</div>
<div class="cap l1" style="left:842.17px;letter-spacing:-0.4px">Zukunft</div>
<div class="cap l2" style="left:842.17px;letter-spacing:1.5px">2071 - 2100</div>
<div class="cap l1" style="left:1684.34px;letter-spacing:0.9px">Änderung 2071 - 2100</div>
<div class="cap l2" style="left:1684.34px;letter-spacing:1.2px">zu 1971 - 2000</div>
</body></html>
